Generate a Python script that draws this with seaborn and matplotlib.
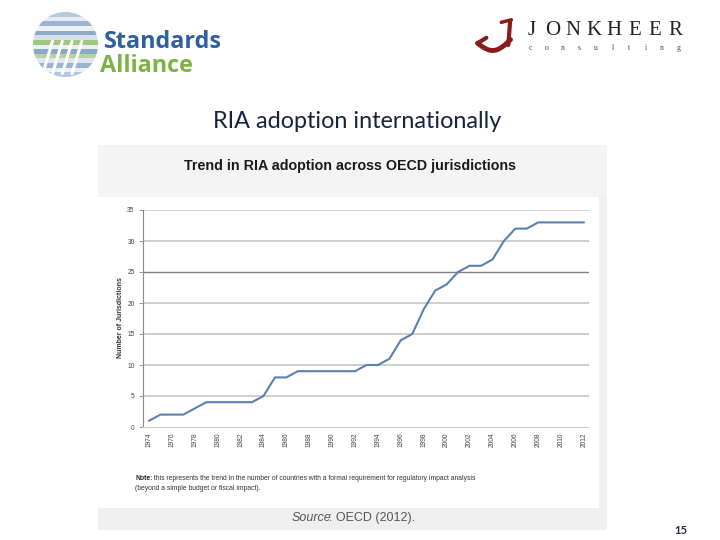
import numpy as np
import pandas as pd
import seaborn as sns
import matplotlib.pyplot as plt
from matplotlib.patches import Rectangle, Circle

# data (one value per year)
years = list(range(1974, 2013))
jurisdictions = [1, 2, 2, 2, 3, 4, 4, 4, 4, 4,
                 5, 8, 8, 9, 9, 9, 9, 9, 9, 10,
                 10, 11, 14, 15, 19, 22, 23, 25, 26, 26,
                 27, 30, 32, 32, 33, 33, 33, 33, 33]
year_ticks = list(range(1974, 2013, 2))
y_ticks = list(range(0, 36, 5))

W, H = 720, 540


def fx(px):
    return px / W


def fy(py):
    return 1 - py / H


sns.set_style("white")
plt.rcParams['font.family'] = ['Liberation Sans', 'DejaVu Sans']

fig = plt.figure(figsize=(7.2, 5.4), dpi=100)
fig.patch.set_facecolor("white")

# --- embedded chart panel ---
bg = fig.add_axes([0, 0, 1, 1], zorder=0)
bg.set_xlim(0, W)
bg.set_ylim(H, 0)
bg.axis("off")
bg.add_patch(Rectangle((98, 145), 509, 385, facecolor="#efefef", edgecolor="none"))
bg.add_patch(Rectangle((98, 145), 509, 52, facecolor="#f4f4f4", edgecolor="none"))
bg.add_patch(Rectangle((98, 197), 501, 311, facecolor="white", edgecolor="none"))

fig.text(fx(350), fy(166), "Trend in RIA adoption across OECD jurisdictions", ha="center", va="center",
         fontsize=10.3, fontweight="bold", color="#1a1a1a")

ax = fig.add_axes([fx(143), fy(427), fx(589) - fx(143), fy(210) - fy(427)], zorder=2)
ax.set_facecolor("none")
df = pd.DataFrame({"year": years, "count": jurisdictions})
sns.lineplot(data=df, x="year", y="count", ax=ax, color="#5b80b0", linewidth=1.5, zorder=3)

ax.set_xlim(1974 - 6 / 11.447, 2012 + 5 / 11.447)
ax.set_ylim(0, 35)
for v in y_ticks[1:]:
    ax.axhline(v, color="#7f7f7f" if v == 25 else "#c6c6c6", linewidth=1.0 if v == 25 else 1.2, zorder=1)
ax.set_yticks(y_ticks)
ax.set_xticks(year_ticks)
ax.set_xticklabels([str(y) for y in year_ticks], rotation=90)
ax.tick_params(axis="y", labelsize=4.8, labelcolor="#444444", length=3, width=0.6, color="#888888", pad=3, left=True)
ax.tick_params(axis="x", labelsize=4.8, labelcolor="#444444", length=0, pad=4)
for s in ["top", "right"]:
    ax.spines[s].set_visible(False)
ax.spines["left"].set_color("#888888")
ax.spines["left"].set_linewidth(0.8)
ax.spines["bottom"].set_color("#d0d0d0")
ax.spines["bottom"].set_linewidth(0.8)
ax.set_xlabel("")
ax.set_ylabel("")
fig.text(fx(120), fy(318), "Number of Jurisdictions", rotation=90, ha="center", va="center",
         fontsize=5, color="#333333", fontweight="bold")

note = bg.text(135, 478, "Note:", ha="left", va="center", fontsize=4.85,
               color="#222222", fontweight="bold")
bg.annotate(" this represents the trend in the number of countries with a formal requirement for regulatory impact analysis",
            xy=(1, 0.5), xycoords=note, ha="left", va="center", fontsize=4.85, color="#333333")
bg.text(135, 488, "(beyond a simple budget or fiscal impact).",
        ha="left", va="center", fontsize=4.85, color="#333333")

src = bg.text(292, 518, "Source", ha="left", va="center", fontsize=9,
              color="#555555", style="italic")
bg.annotate(": OECD (2012).", xy=(1, 0.5), xycoords=src, xytext=(-1.8, 0), textcoords="offset points",
            ha="left", va="center", fontsize=9, color="#555555")

# --- slide decoration ---
fig.text(fx(357), fy(122), "RIA adoption internationally", ha="center", va="center",
         fontsize=16.8, color="#16233f", family=["Lato", "DejaVu Sans"])
fig.text(fx(681), fy(530), "15", ha="center", va="center", fontsize=8, fontweight="bold",
         color="#1f2d4a", family=["Lato", "DejaVu Sans"])

# Standards Alliance logo
lax = fig.add_axes([fx(33), fy(77), fx(98) - fx(33), fy(12) - fy(77)], zorder=1)
lax.set_xlim(-1, 1)
lax.set_ylim(-1, 1)
lax.axis("off")
clip = Circle((0, 0), 1, transform=lax.transData)
stripe_cols = ["#b8c9dd", "#e6ecf3", "#9db4d0", "#eef2f7", "#8fa9c8", "#d5e0ec", "#9fc77e",
               "#e9f0f6", "#8ba8c8", "#b6d19d", "#dde6f0", "#9bb3cf", "#eaf0f6", "#b3c6dc"]
for i, c in enumerate(stripe_cols):
    y0 = 1 - (i + 1) * 2 / len(stripe_cols)
    r = lax.add_patch(Rectangle((-1, y0), 2, 2 / len(stripe_cols), facecolor=c, edgecolor="none"))
    r.set_clip_path(clip)
for xo in [-0.4, -0.1, 0.2, 0.5]:
    ln, = lax.plot([xo, xo - 0.3], [0.1, -0.9], color="white", linewidth=2.2, solid_capstyle="round")
    ln.set_clip_path(clip)
fig.text(fx(104), fy(42), "Standards", ha="left", va="center", fontsize=16.8, fontweight="bold",
         color="#2f5f9e", family=["Open Sans", "DejaVu Sans"], zorder=3)
fig.text(fx(100), fy(66), "Alliance", ha="left", va="center", fontsize=16.8, fontweight="bold",
         color="#7cb342", family=["Open Sans", "DejaVu Sans"], zorder=3)

# Jonkheer logo
jax = fig.add_axes([fx(474), fy(54), fx(518) - fx(474), fy(18) - fy(54)], zorder=1)
jax.set_xlim(0, 1)
jax.set_ylim(0, 1)
jax.axis("off")
t = np.linspace(0, 1, 60)
jax.plot(0.08 + 0.75 * t, 0.3 - 0.25 * np.sin(np.pi * t) + 0.1 * t, color="#8b1a1a", linewidth=3.5)
jax.plot(0.08 + 0.2 * t, 0.3 + 0.15 * t, color="#8b1a1a", linewidth=3)
jax.plot([0.78, 0.82], [0.25, 0.9], color="#8b1a1a", linewidth=3)
jax.plot([0.62, 0.85], [0.88, 0.95], color="#8b1a1a", linewidth=2.5)
for i, ch in enumerate("JONKHEER"):
    fig.text(fx(532 + i * 20.5), fy(31), ch, ha="center", va="center", fontsize=15,
             color="#222222", family=["Liberation Serif", "DejaVu Serif"])
for i, ch in enumerate("consulting"):
    fig.text(fx(530 + i * 16.5), fy(48), ch, ha="center", va="center", fontsize=5.5,
             color="#444444", family=["Liberation Serif", "DejaVu Serif"])

fig.savefig("out.png", dpi=100)
